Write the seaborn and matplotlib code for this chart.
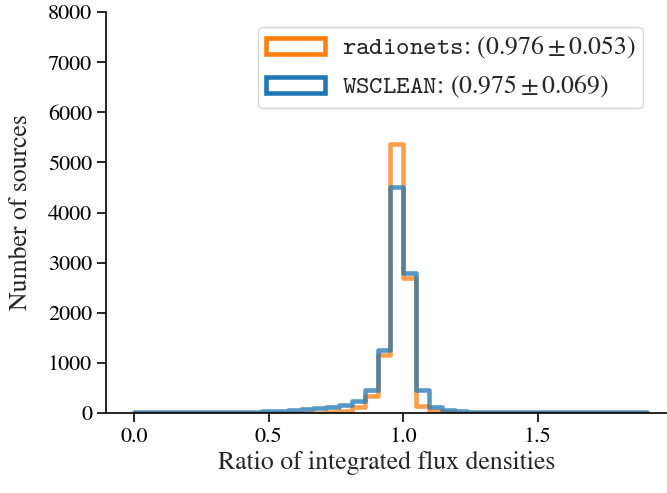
import numpy as np
import pandas as pd
import seaborn as sns
import matplotlib
matplotlib.use("Agg")
import matplotlib.pyplot as plt
from matplotlib.patches import Patch

# ---- data ----
bin_min = 0.0
bin_max = 1.905
n_bins = 40

radionets_counts = [2, 0, 1, 0, 2, 0, 3, 0, 2, 1, 3, 4,
                    5, 6, 8, 12, 32, 112, 345, 1160, 5370, 2690, 132, 45,
                    12, 6, 3, 2, 3, 1, 2, 3, 1, 2, 2, 3, 1, 2, 3, 4]
wsclean_counts = [12, 12, 12, 14, 14, 16, 18, 18, 20, 22, 30, 40,
                  55, 70, 92, 120, 160, 235, 450, 1260, 4515, 2785, 450, 112,
                  62, 35, 25, 20, 18, 16, 15, 15, 14, 14, 13, 13, 12, 12, 12, 12]

labels = [r"$\mathtt{radionets}$: $(0.976 \pm 0.053)$",
          r"$\mathtt{WSCLEAN}$: $(0.975 \pm 0.069)$"]
colors = ["#ff7f0e", "#1f77b4"]

edges = np.linspace(bin_min, bin_max, n_bins + 1)
centers = 0.5 * (edges[:-1] + edges[1:])
df = pd.DataFrame({
    "ratio": np.concatenate([centers, centers]),
    "count": np.concatenate([radionets_counts, wsclean_counts]).astype(float),
    "method": ["radionets"] * n_bins + ["WSCLEAN"] * n_bins,
})

sns.set_style("ticks")
plt.rcParams["font.family"] = ["STIXGeneral", "DejaVu Serif"]
plt.rcParams["mathtext.fontset"] = "custom"
plt.rcParams["mathtext.rm"] = "STIXGeneral"
plt.rcParams["mathtext.it"] = "STIXGeneral:italic"
plt.rcParams["mathtext.tt"] = "cmtt10"
plt.rcParams["mathtext.fallback"] = "stix"

fig = plt.figure(figsize=(6.67, 4.93), dpi=100)
ax = fig.add_axes([106 / 667, 1 - 413 / 493, 1 - 106 / 667, (413 - 12) / 493])

for name, col in zip(["radionets", "WSCLEAN"], colors):
    sub = df[df["method"] == name].reset_index(drop=True)
    sns.histplot(data=sub, x="ratio", weights="count", bins=n_bins,
                 binrange=(bin_min, bin_max),
                 element="step", fill=False, color=col, alpha=0.75,
                 linewidth=3.3, ax=ax)

ax.set_xlim(-0.104, 1.98)
ax.set_ylim(0, 8000)
ax.set_xticks([0.0, 0.5, 1.0, 1.5])
ax.set_xticklabels(["0.0", "0.5", "1.0", "1.5"])
ax.set_yticks(np.arange(0, 8001, 1000))
ax.tick_params(axis="both", labelsize=16, colors="black", width=1.2, length=6.5)
ax.set_xlabel("Ratio of integrated flux densities", fontsize=18.5, labelpad=3)
ax.set_ylabel("Number of sources", fontsize=18.5, labelpad=11)
sns.despine(ax=ax)
for s in ["left", "bottom"]:
    ax.spines[s].set_color("black")
    ax.spines[s].set_linewidth(1.2)

handles = [Patch(facecolor="white", edgecolor=c, linewidth=3.3) for c in colors]
ax.legend(handles, labels, loc="upper right", fontsize=18.5,
          handlelength=2.3, handleheight=0.6, borderaxespad=0.6,
          borderpad=0.3, labelspacing=0.5,
          handletextpad=0.65, bbox_to_anchor=(0.985, 1.0))

fig.savefig("out.png", dpi=100)
